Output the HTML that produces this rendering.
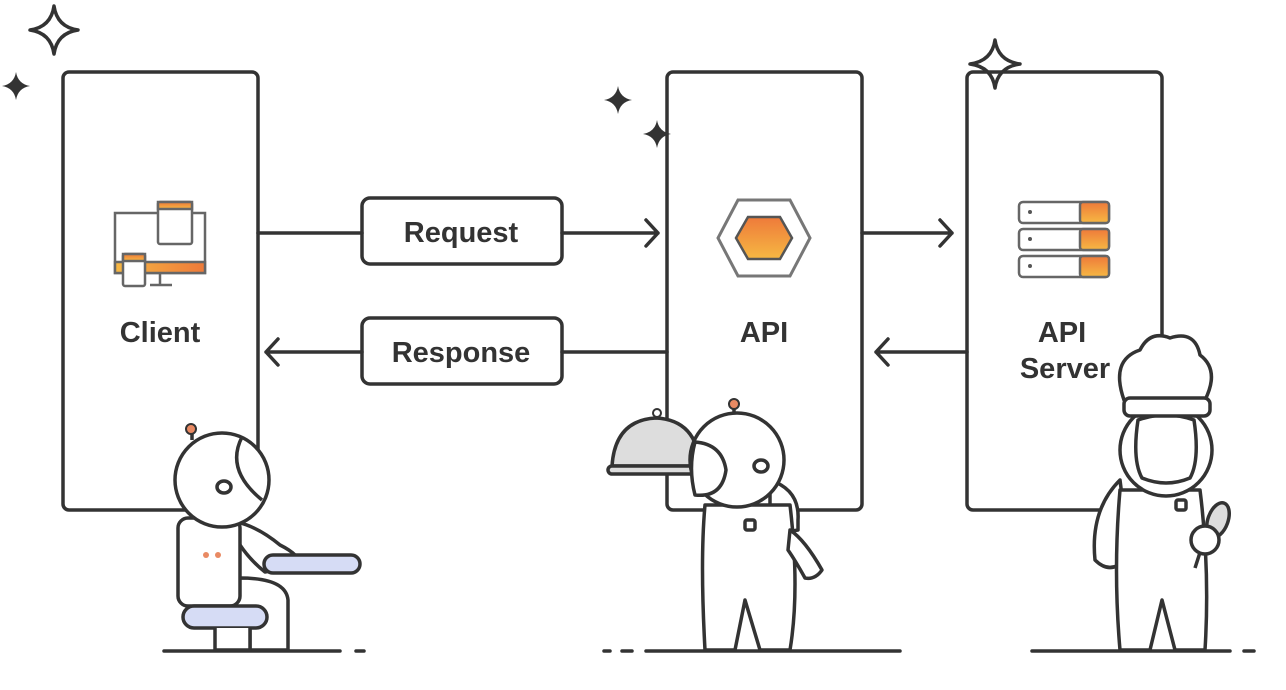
<!DOCTYPE html>
<html><head><meta charset="utf-8"><style>
html,body{margin:0;padding:0;background:#fff;}
svg{display:block;}
text{font-family:"Liberation Sans",sans-serif;font-weight:bold;fill:#333;}
</style></head><body>
<svg width="1286" height="690" viewBox="0 0 1286 690" xmlns="http://www.w3.org/2000/svg">
<defs>
<linearGradient id="og" x1="0" y1="0" x2="0" y2="1"><stop offset="0" stop-color="#ee7a3a"/><stop offset="1" stop-color="#f6b843"/></linearGradient>
<linearGradient id="og2" x1="0" y1="0" x2="1" y2="0"><stop offset="0" stop-color="#f6b843"/><stop offset="1" stop-color="#ee7a3a"/></linearGradient>
</defs>
<g fill="none" stroke="#333" stroke-width="3.5" stroke-linecap="round" stroke-linejoin="round">
<g fill="#333" stroke="none">
<path d="M16 72 Q18 84 30 86 Q18 88 16 100 Q14 88 2 86 Q14 84 16 72Z"/>
<path d="M618 86 Q620 98 632 100 Q620 102 618 114 Q616 102 604 100 Q616 98 618 86Z"/>
<path d="M657 120 Q659 132 671 134 Q659 136 657 148 Q655 136 643 134 Q655 132 657 120Z"/>
</g>
<path d="M54 6 Q57 27 78 30 Q57 33 54 54 Q51 33 30 30 Q51 27 54 6Z"/>
<path d="M995 40 Q998 61 1020 64 Q998 67 995 88 Q992 67 970 64 Q992 61 995 40Z"/>
<rect x="63" y="72" width="195" height="438" rx="6"/>
<rect x="667" y="72" width="195" height="438" rx="6"/>
<rect x="967" y="72" width="195" height="438" rx="6"/>
<rect x="362" y="198" width="200" height="66" rx="8"/>
<rect x="362" y="318" width="200" height="66" rx="8"/>
<path d="M258 233H362M562 233H658M646 220L658 233L646 246"/>
<path d="M667 352H562M362 352H266M278 339L266 352L278 365"/>
<path d="M862 233H952M940 220L952 233L940 246"/>
<path d="M967 352H876M888 339L876 352L888 365"/>
</g>
<g stroke="#666" stroke-width="2.5" fill="#fff">
<rect x="115" y="213" width="90" height="60"/>
<rect x="115" y="262" width="90" height="11" fill="url(#og2)" stroke="#666"/>
<path d="M160 273V285M150 285H172" fill="none"/>
<rect x="158" y="202" width="34" height="42" rx="2"/>
<rect x="158" y="202" width="34" height="7" fill="url(#og)"/>
<rect x="123" y="254" width="22" height="32" rx="2"/>
<rect x="123" y="254" width="22" height="7" fill="url(#og)"/>
</g>
<polygon points="738,200 790,200 810,238 790,276 738,276 718,238" fill="#fff" stroke="#777" stroke-width="3"/>
<polygon points="748,217 780,217 792,238 780,259 748,259 736,238" fill="url(#og)" stroke="#555" stroke-width="2.5"/>
<g stroke="#666" stroke-width="2.5">
<rect x="1019" y="202" width="90" height="21" rx="4" fill="#fff"/>
<rect x="1019" y="229" width="90" height="21" rx="4" fill="#fff"/>
<rect x="1019" y="256" width="90" height="21" rx="4" fill="#fff"/>
<rect x="1080" y="202" width="29" height="21" rx="3" fill="url(#og)"/>
<rect x="1080" y="229" width="29" height="21" rx="3" fill="url(#og)"/>
<rect x="1080" y="256" width="29" height="21" rx="3" fill="url(#og)"/>
</g>
<g fill="#555"><circle cx="1030" cy="212" r="2"/><circle cx="1030" cy="239" r="2"/><circle cx="1030" cy="266" r="2"/></g>
<text x="461" y="242" font-size="29" text-anchor="middle">Request</text>
<text x="461" y="362" font-size="29" text-anchor="middle">Response</text>
<text x="160" y="342" font-size="29" text-anchor="middle">Client</text>
<text x="764" y="342" font-size="29" text-anchor="middle">API</text>
<text x="1062" y="342" font-size="29" text-anchor="middle">API</text>
<text x="1065" y="378" font-size="29" text-anchor="middle">Server</text>
<g stroke="#333" stroke-width="3.5" stroke-linecap="round">
<path d="M164 651H340M356 651H364"/>
<path d="M604 651H610M622 651H632M646 651H900"/>
<path d="M1032 651H1230M1244 651H1254"/>
</g>
<g stroke="#333" stroke-width="3.5" fill="#fff" stroke-linejoin="round">
<path d="M220 520 Q250 520 280 545 Q300 555 300 565 L265 572 Q250 560 240 545Z"/>
<path d="M240 578 Q286 578 288 600 V650 H250 V610 H230 Z"/>
<rect x="178" y="518" width="62" height="88" rx="10"/>
<rect x="183" y="606" width="84" height="22" rx="11" fill="#d6dcf5"/>
<path d="M215 628V650H250V628" />
<rect x="264" y="555" width="96" height="18" rx="9" fill="#d6dcf5"/>
<circle cx="222" cy="480" r="47"/>
<path d="M242 437 Q225 470 262 500" fill="none"/>
<ellipse cx="224" cy="487" rx="7" ry="6"/>
<path d="M192 440V434" fill="none"/>
</g>
<circle cx="191" cy="429" r="5" fill="#e98a63" stroke="#333" stroke-width="2"/>
<g fill="#e98a63"><circle cx="206" cy="555" r="3"/><circle cx="218" cy="555" r="3"/></g>
<g stroke="#333" stroke-width="3.5" fill="#fff" stroke-linejoin="round">
<path d="M770 480 Q800 490 798 520 V530 L770 535Z"/>
<path d="M705 505 Q700 560 705 650 H735 L745 600 L760 650 H790 Q800 590 790 505Z"/>
<path d="M790 530 Q805 540 822 570 Q815 580 805 578 Q795 560 788 550Z"/>
<path d="M612 466 Q615 420 656 418 Q697 420 700 466Z" fill="#ddd"/>
<rect x="608" y="466" width="100" height="8" rx="4" fill="#ddd"/>
<circle cx="737" cy="460" r="47"/>
<path d="M695 442 Q722 444 726 470 Q722 498 695 495 Q688 468 695 442Z"/>
<ellipse cx="761" cy="466" rx="7" ry="6"/>
<rect x="745" y="520" width="10" height="10" rx="2"/>
<path d="M734 412V406" fill="none"/>
</g>
<circle cx="657" cy="413" r="4" fill="#fff" stroke="#333" stroke-width="2"/>
<circle cx="734" cy="404" r="5" fill="#e98a63" stroke="#333" stroke-width="2"/>
<g stroke="#333" stroke-width="3.5" fill="#fff" stroke-linejoin="round">
<path d="M1120 480 Q1090 510 1095 560 Q1110 575 1125 560 L1125 520Z"/>
<path d="M1120 490 H1200 Q1210 570 1205 650 H1175 L1162 600 L1150 650 H1120 Q1113 570 1120 490Z"/>
<circle cx="1166" cy="450" r="46"/>
<path d="M1138 420 Q1166 410 1194 420 Q1200 460 1190 478 Q1166 488 1142 478 Q1132 460 1138 420Z" fill="#fff"/>
<path d="M1124 400 Q1110 360 1140 350 Q1150 330 1170 338 Q1195 330 1200 355 Q1220 370 1205 400Z"/>
<rect x="1124" y="398" width="86" height="18" rx="6"/>
<rect x="1176" y="500" width="10" height="10" rx="2"/>
<path d="M1204 540 L1195 568" fill="none"/>
<ellipse cx="1218" cy="520" rx="10" ry="18" transform="rotate(20 1218 520)" fill="#ddd"/>
<circle cx="1205" cy="540" r="14"/>
</g>
</svg>
</body></html>
